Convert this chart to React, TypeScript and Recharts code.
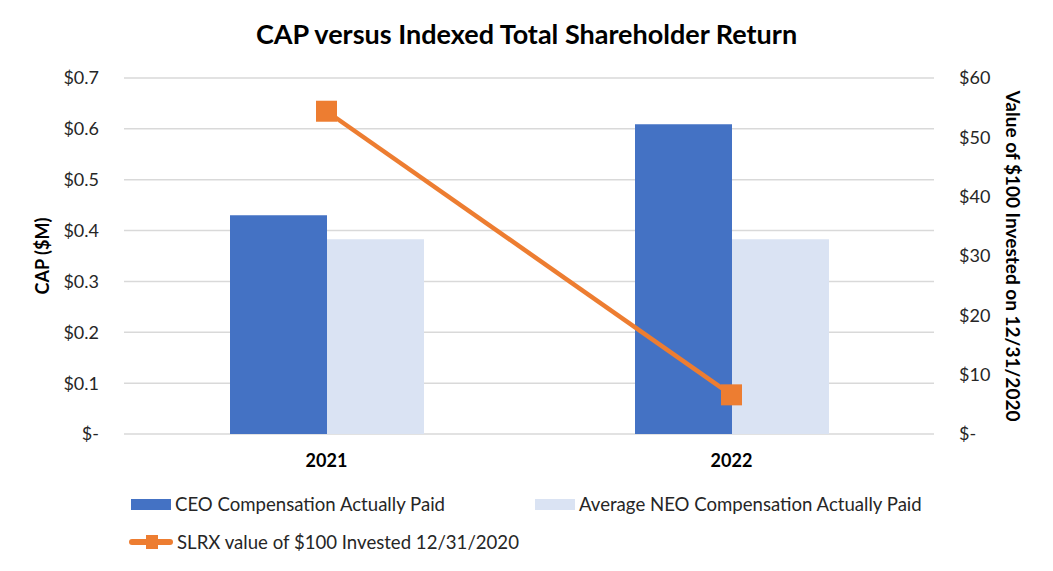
import {
  ComposedChart,
  Bar,
  Line,
  XAxis,
  YAxis,
  CartesianGrid,
} from "recharts";

const years = ["2021", "2022"];
const ceoCap = [0.43, 0.609]; // $M
const neoCap = [0.383, 0.383]; // $M
const slrxValue = [54.4, 6.6]; // value of $100
const leftTicks = [0, 0.1, 0.2, 0.3, 0.4, 0.5, 0.6, 0.7];
const rightTicks = [0, 10, 20, 30, 40, 50, 60];

const BLUE = "#4472C4";
const LIGHT = "#DAE3F3";
const ORANGE = "#ED7D31";
const FONT = "Lato, 'Open Sans', sans-serif";

const data = years.map((year, i) => ({
  year,
  ceo: ceoCap[i],
  neo: neoCap[i],
  slrx: slrxValue[i],
}));

const leftFmt = (v: number) => (v === 0 ? "$-" : `$${v.toFixed(1)}`);
const rightFmt = (v: number) => (v === 0 ? "$-" : `$${v}`);

// square marker like Excel's
function SquareDot(props: any) {
  const { cx, cy } = props;
  if (cx == null || cy == null) return null;
  return <rect x={cx - 10.5} y={cy - 10.5} width={21} height={21} fill={ORANGE} />;
}

export default function App() {
  const tickStyle = { fontSize: 18, fill: "#262626", fontFamily: FONT };

  return (
    <div style={{ position: "absolute", left: 0, top: 0, width: 1053, height: 571, background: "#fff", fontFamily: FONT }}>
      {/* title */}
      <div
        style={{
          position: "absolute",
          top: 18,
          left: 0,
          width: 1053,
          textAlign: "center",
          fontSize: 27,
          lineHeight: "32px",
          fontWeight: 700,
          color: "#000",
        }}
      >
        CAP versus Indexed Total Shareholder Return
      </div>

      <ComposedChart
        width={1053}
        height={571}
        data={data}
        margin={{ top: 78, right: 0, bottom: 107, left: 0 }}
        barGap={0}
      >
        <CartesianGrid yAxisId="left" vertical={false} stroke="#D9D9D9" strokeWidth={1.5} />
        <XAxis
          dataKey="year"
          height={30}
          axisLine={false}
          tickLine={false}
          tickSize={0}
          tickMargin={20}
          tick={{ fontSize: 18, fontWeight: 700, fill: "#000", fontFamily: FONT }}
        />
        <YAxis
          yAxisId="left"
          width={124}
          domain={[0, 0.7]}
          ticks={leftTicks}
          tickFormatter={leftFmt}
          axisLine={false}
          tickLine={false}
          tickSize={0}
          tickMargin={25}
          tick={tickStyle}
          label={{
            value: "CAP ($M)",
            angle: -90,
            position: "insideLeft",
            offset: 43,
            style: { textAnchor: "middle", fontSize: 18, fontWeight: 700, fill: "#000", fontFamily: FONT },
          }}
        />
        <YAxis
          yAxisId="right"
          orientation="right"
          width={119}
          domain={[0, 60]}
          ticks={rightTicks}
          tickFormatter={rightFmt}
          axisLine={false}
          tickLine={false}
          tickSize={0}
          tickMargin={25}
          tick={{ ...tickStyle, textAnchor: "start" }}
          label={{
            value: "Value of $100 Invested on 12/31/2020",
            angle: 90,
            position: "insideRight",
            offset: 40,
            style: { textAnchor: "middle", fontSize: 19, fontWeight: 700, fill: "#000", fontFamily: FONT },
          }}
        />
        <Bar yAxisId="left" dataKey="ceo" fill={BLUE} barSize={97} isAnimationActive={false} />
        <Bar yAxisId="left" dataKey="neo" fill={LIGHT} barSize={97} isAnimationActive={false} />
        <Line
          yAxisId="right"
          dataKey="slrx"
          stroke={ORANGE}
          strokeWidth={4.5}
          dot={<SquareDot />}
          activeDot={false}
          isAnimationActive={false}
        />
      </ComposedChart>

      {/* legend */}
      <LegendRow top={493} left={131} swatch={<div style={{ width: 40, height: 11, background: BLUE }} />} text="CEO Compensation Actually Paid" />
      <LegendRow top={493} left={535} swatch={<div style={{ width: 40, height: 11, background: LIGHT }} />} text="Average NEO Compensation Actually Paid" />
      <LegendRow
        top={531}
        left={129}
        swatch={
          <div style={{ position: "relative", width: 44, height: 16 }}>
            <div style={{ position: "absolute", left: 0, top: 5, width: 44, height: 6, borderRadius: 3, background: ORANGE }} />
            <div style={{ position: "absolute", left: 17, top: 1, width: 12, height: 14, background: ORANGE }} />
          </div>
        }
        text="SLRX value of $100 Invested 12/31/2020"
      />
    </div>
  );
}

function LegendRow({ top, left, swatch, text }: { top: number; left: number; swatch: React.ReactNode; text: string }) {
  return (
    <div
      style={{
        position: "absolute",
        top,
        left,
        height: 22,
        display: "flex",
        alignItems: "center",
        gap: 4,
        fontSize: 18.6,
        color: "#262626",
        whiteSpace: "nowrap",
      }}
    >
      {swatch}
      <span>{text}</span>
    </div>
  );
}
